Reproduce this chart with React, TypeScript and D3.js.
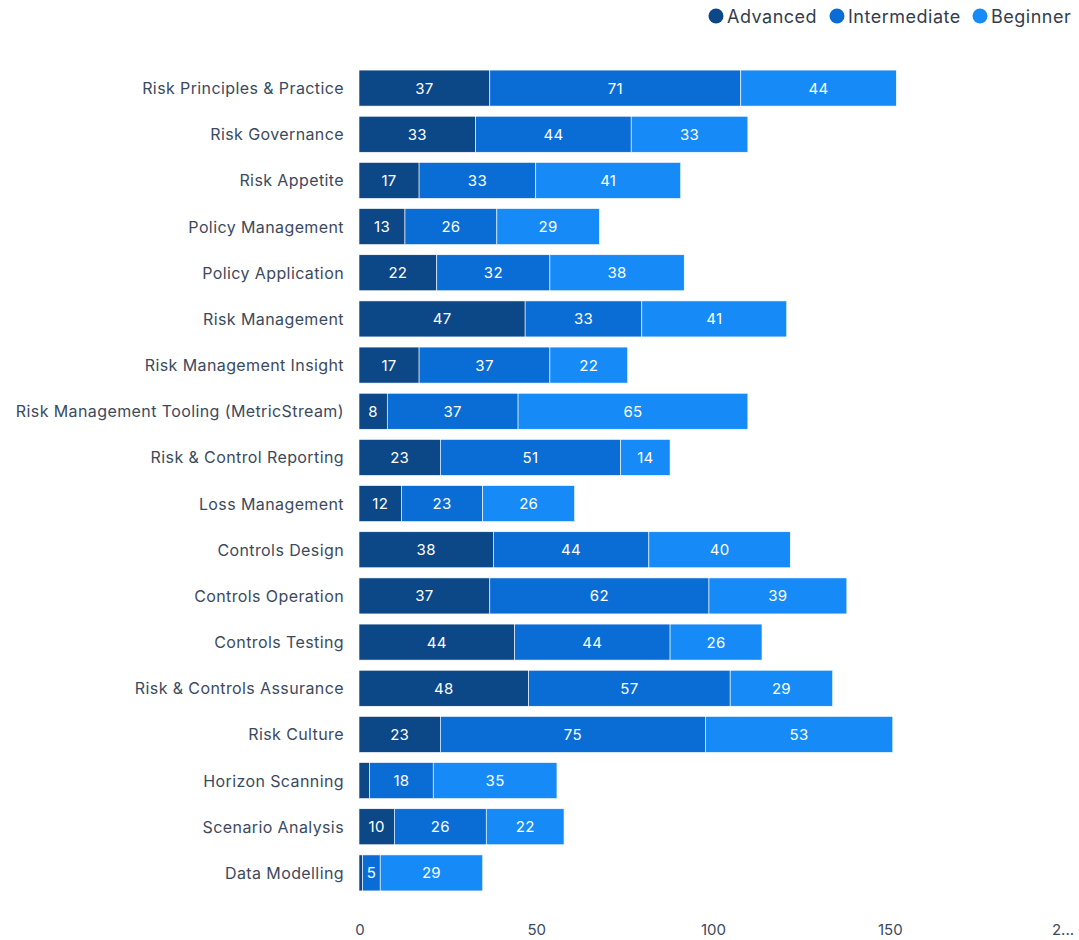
import React, { useEffect, useRef } from "react";
import * as d3 from "d3";

const categories = [
  "Risk Principles & Practice",
  "Risk Governance",
  "Risk Appetite",
  "Policy Management",
  "Policy Application",
  "Risk Management",
  "Risk Management Insight",
  "Risk Management Tooling (MetricStream)",
  "Risk & Control Reporting",
  "Loss Management",
  "Controls Design",
  "Controls Operation",
  "Controls Testing",
  "Risk & Controls Assurance",
  "Risk Culture",
  "Horizon Scanning",
  "Scenario Analysis",
  "Data Modelling",
];
const advanced = [37, 33, 17, 13, 22, 47, 17, 8, 23, 12, 38, 37, 44, 48, 23, 3, 10, 1];
const intermediate = [71, 44, 33, 26, 32, 33, 37, 37, 51, 23, 44, 62, 44, 57, 75, 18, 26, 5];
const beginner = [44, 33, 41, 29, 38, 41, 22, 65, 14, 26, 40, 39, 26, 29, 53, 35, 22, 29];
const seriesNames = ["Advanced", "Intermediate", "Beginner"];
const xTicks = [0, 50, 100, 150, 200];
const colors = ["#0c4787", "#0a6dd6", "#168bf7"];

export default function App() {
  const ref = useRef<SVGSVGElement>(null);
  useEffect(() => {
    const svg = d3.select(ref.current);
    svg.selectAll("*").remove();
    const font = "Inter, 'Noto Sans', sans-serif";
    const x = d3.scaleLinear().domain([0, 200]).range([359, 1066]);
    const y = d3.scaleBand().domain(categories).range([65, 896]).paddingInner(0.22).paddingOuter(0.11);
    const rows = categories.map((c, i) => ({ c, vals: [advanced[i], intermediate[i], beginner[i]] }));

    const g = svg.append("g");
    rows.forEach((r) => {
      let acc = 0;
      r.vals.forEach((v, s) => {
        const x0 = x(acc), x1 = x(acc + v);
        acc += v;
        g.append("rect")
          .attr("x", x0).attr("y", y(r.c)!)
          .attr("width", Math.max(0, x1 - x0)).attr("height", y.bandwidth())
          .attr("fill", colors[s]).attr("stroke", "#ffffff").attr("stroke-width", 0.6);
        if (x1 - x0 > 15) {
          g.append("text")
            .attr("x", (x0 + x1) / 2).attr("y", y(r.c)! + y.bandwidth() / 2)
            .attr("text-anchor", "middle").attr("dominant-baseline", "central")
            .attr("fill", "#ffffff").attr("font-family", font).attr("font-size", 15)
            .attr("letter-spacing", 0.3)
            .text(v);
        }
      });
      g.append("text")
        .attr("x", 344).attr("y", y(r.c)! + y.bandwidth() / 2)
        .attr("text-anchor", "end").attr("dominant-baseline", "central")
        .attr("fill", "#3b4a5e").attr("font-family", font).attr("font-size", 16)
        .attr("letter-spacing", 0.4)
        .text(r.c);
    });

    xTicks.forEach((t) => {
      svg.append("text")
        .attr("x", x(t) + (t === 200 ? -3 : 1)).attr("y", 929)
        .attr("text-anchor", "middle").attr("dominant-baseline", "central")
        .attr("fill", "#3b4a5e").attr("font-family", font).attr("font-size", 15)
        .text(t === 200 ? "2..." : String(t));
    });

    const legendX = [716, 837, 980];
    seriesNames.forEach((n, i) => {
      svg.append("circle").attr("cx", legendX[i]).attr("cy", 16).attr("r", 7.5).attr("fill", colors[i]);
      svg.append("text")
        .attr("x", legendX[i] + 11).attr("y", 16)
        .attr("dominant-baseline", "central")
        .attr("fill", "#333d4d").attr("font-family", font).attr("font-size", 18)
        .attr("letter-spacing", 0.5)
        .text(n);
    });
  }, []);
  return (
    <svg ref={ref} width={1079} height={940} style={{ position: "absolute", left: 0, top: 0, background: "#fff" }} />
  );
}
